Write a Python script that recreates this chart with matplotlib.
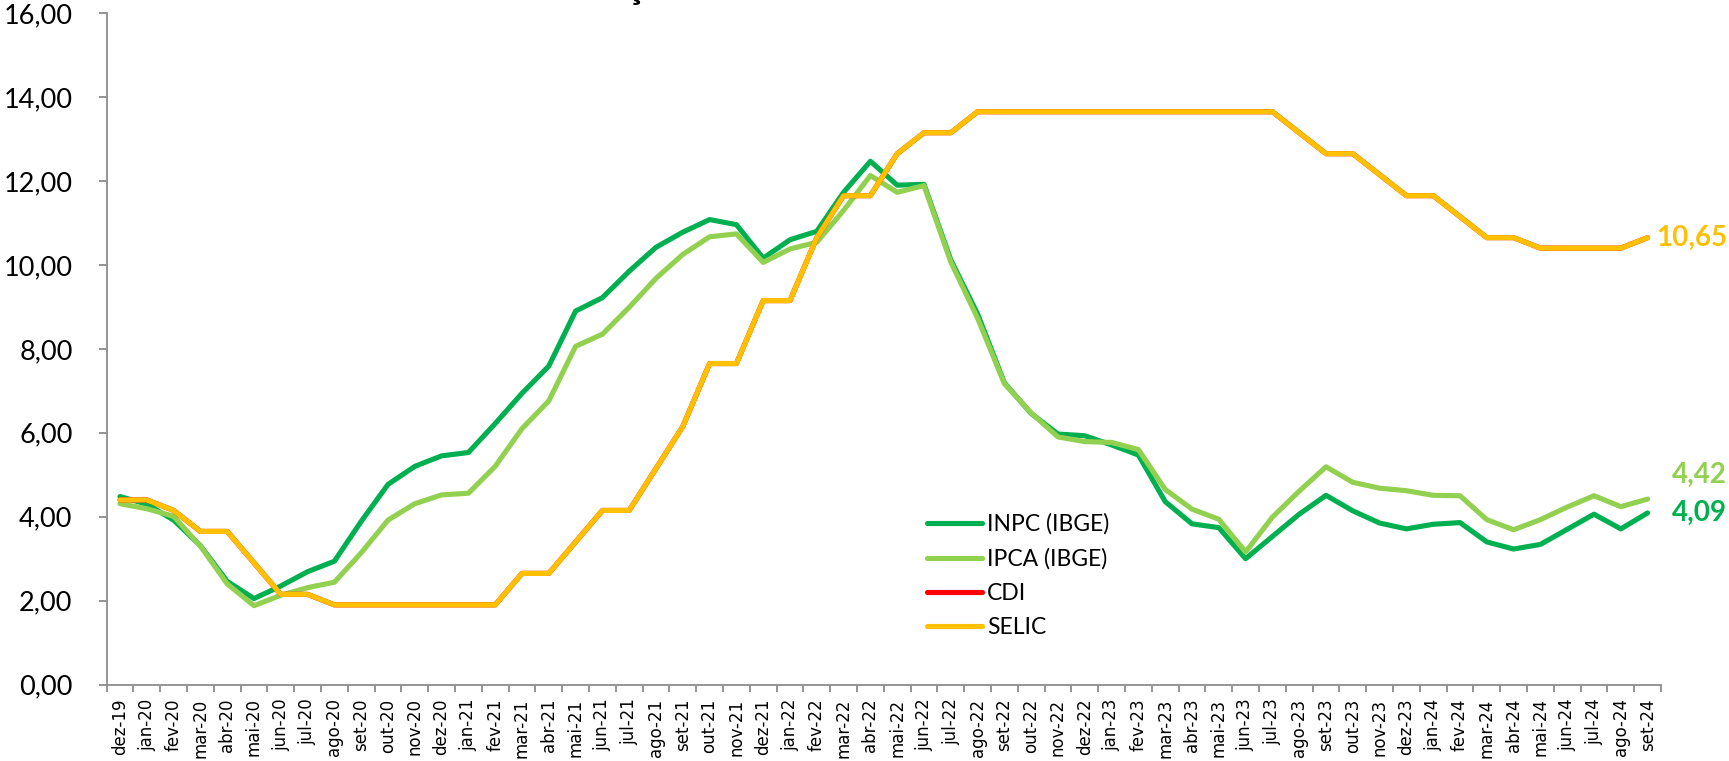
import matplotlib
matplotlib.use("Agg")
import matplotlib.pyplot as plt
from matplotlib.ticker import FixedLocator, FuncFormatter

months = ["dez-19", "jan-20", "fev-20", "mar-20", "abr-20", "mai-20", "jun-20", "jul-20", "ago-20",
          "set-20", "out-20", "nov-20", "dez-20", "jan-21", "fev-21", "mar-21", "abr-21", "mai-21",
          "jun-21", "jul-21", "ago-21", "set-21", "out-21", "nov-21", "dez-21", "jan-22", "fev-22",
          "mar-22", "abr-22", "mai-22", "jun-22", "jul-22", "ago-22", "set-22", "out-22", "nov-22",
          "dez-22", "jan-23", "fev-23", "mar-23", "abr-23", "mai-23", "jun-23", "jul-23", "ago-23",
          "set-23", "out-23", "nov-23", "dez-23", "jan-24", "fev-24", "mar-24", "abr-24", "mai-24",
          "jun-24", "jul-24", "ago-24", "set-24"]

inpc = [4.48, 4.30, 3.92, 3.31, 2.46, 2.05, 2.35, 2.69, 2.94, 3.89, 4.77, 5.20, 5.45, 5.53,
        6.22, 6.94, 7.59, 8.90, 9.22, 9.85, 10.42, 10.78, 11.08, 10.96, 10.16, 10.60, 10.80,
        11.73, 12.47, 11.90, 11.92, 10.12, 8.83, 7.19, 6.46, 5.97, 5.93, 5.71, 5.47, 4.36,
        3.83, 3.74, 3.00, 3.53, 4.06, 4.51, 4.14, 3.85, 3.71, 3.82, 3.86, 3.40, 3.23, 3.34,
        3.70, 4.06, 3.71, 4.09]

ipca = [4.31, 4.19, 4.01, 3.30, 2.40, 1.88, 2.13, 2.31, 2.44, 3.14, 3.92, 4.31, 4.52, 4.56,
        5.20, 6.10, 6.76, 8.06, 8.35, 8.99, 9.68, 10.25, 10.67, 10.74, 10.06, 10.38, 10.54,
        11.30, 12.13, 11.73, 11.89, 10.07, 8.73, 7.17, 6.47, 5.90, 5.79, 5.77, 5.60, 4.65,
        4.18, 3.94, 3.16, 3.99, 4.61, 5.19, 4.82, 4.68, 4.62, 4.51, 4.50, 3.93, 3.69, 3.93,
        4.23, 4.50, 4.24, 4.42]

cdi = [4.40, 4.40, 4.15, 3.65, 3.65, 2.90, 2.15, 2.15, 1.90, 1.90, 1.90, 1.90, 1.90, 1.90,
       1.90, 2.65, 2.65, 3.40, 4.15, 4.15, 5.15, 6.15, 7.65, 7.65, 9.15, 9.15, 10.65, 11.65,
       11.65, 12.65, 13.15, 13.15, 13.65, 13.65, 13.65, 13.65, 13.65, 13.65, 13.65, 13.65,
       13.65, 13.65, 13.65, 13.65, 13.15, 12.65, 12.65, 12.15, 11.65, 11.65, 11.15, 10.65,
       10.65, 10.40, 10.40, 10.40, 10.40, 10.65]

selic = [4.40, 4.40, 4.15, 3.65, 3.65, 2.90, 2.15, 2.15, 1.90, 1.90, 1.90, 1.90, 1.90, 1.90,
         1.90, 2.65, 2.65, 3.40, 4.15, 4.15, 5.15, 6.15, 7.65, 7.65, 9.15, 9.15, 10.65, 11.65,
         11.65, 12.65, 13.15, 13.15, 13.65, 13.65, 13.65, 13.65, 13.65, 13.65, 13.65, 13.65,
         13.65, 13.65, 13.65, 13.65, 13.15, 12.65, 12.65, 12.15, 11.65, 11.65, 11.15, 10.65,
         10.65, 10.40, 10.40, 10.40, 10.40, 10.65]

series_names = ["INPC (IBGE)", "IPCA (IBGE)", "CDI", "SELIC"]
series_colors = ["#00B050", "#92D050", "#FF0000", "#FFC000"]
y_ticks = [0, 2, 4, 6, 8, 10, 12, 14, 16]
title_text = "Inflação x Selic"

W, H = 1729, 761
fig = plt.figure(figsize=(W / 100, H / 100), dpi=100)
ax = fig.add_axes([106.6 / W, 1 - 684.6 / H, (1661 - 106.6) / W, (684.6 - 13.1) / H])

x = list(range(len(months)))
lw = 3.7
for vals, name, col in zip([inpc, ipca, cdi, selic], series_names, series_colors):
    ax.plot(x, vals, color=col, lw=lw, label=name, solid_joinstyle="round",
            solid_capstyle="round")

ax.set_xlim(-0.5, len(months) - 0.5)
ax.set_ylim(0, 16)

grey = "#8C8C8C"
for s in ["top", "right"]:
    ax.spines[s].set_visible(False)
for s in ["left", "bottom"]:
    ax.spines[s].set_color(grey)
    ax.spines[s].set_linewidth(1.3)

ax.yaxis.set_major_locator(FixedLocator(y_ticks))
ax.yaxis.set_major_formatter(FuncFormatter(lambda v, p: f"{v:.2f}".replace(".", ",")))
ax.tick_params(axis="y", length=5.5, width=1.3, color=grey, pad=19, labelsize=19.5)
for t in ax.get_yticklabels():
    t.set_fontfamily("Lato")

ax.set_xticks(x)
ax.set_xticklabels(months, rotation=90, fontsize=12, fontfamily="DejaVu Sans")
ax.set_xticks([i - 0.5 for i in range(len(months) + 1)], minor=True)
ax.tick_params(axis="x", which="major", length=0, pad=10)
ax.tick_params(axis="x", which="minor", length=5, width=1.3, color=grey)

# end labels
ax.annotate("10,65", xy=(1, selic[-1]), xycoords=("figure fraction", "data"),
            xytext=(-2, 0), textcoords="offset pixels", ha="right", va="center",
            fontsize=20, fontweight="bold", fontfamily="Lato", color="#FFC000")
ax.annotate("4,42", xy=(1, ipca[-1]), xycoords=("figure fraction", "data"),
            xytext=(-2, 24), textcoords="offset pixels", ha="right", va="center",
            fontsize=20, fontweight="bold", fontfamily="Lato", color="#92D050")
ax.annotate("4,09", xy=(1, inpc[-1]), xycoords=("figure fraction", "data"),
            xytext=(-2, 0), textcoords="offset pixels", ha="right", va="center",
            fontsize=20, fontweight="bold", fontfamily="Lato", color="#00B050")

leg = ax.legend(loc="center left", bbox_to_anchor=(927 / W, 1 - 576 / H),
                bbox_transform=fig.transFigure, frameon=False, borderpad=0,
                borderaxespad=0, handlelength=2.4, handletextpad=0.22,
                labelspacing=0.58, prop={"family": "Lato", "size": 16.5})

# title (cut off at the top edge, as in the reference: only the cedilla shows)
fig.text(555 / W, 1 + 1.0 / H, title_text, ha="left", va="baseline",
         fontsize=26, fontweight="bold", fontfamily="Lato", color="black")

fig.savefig("out.png", dpi=100)
